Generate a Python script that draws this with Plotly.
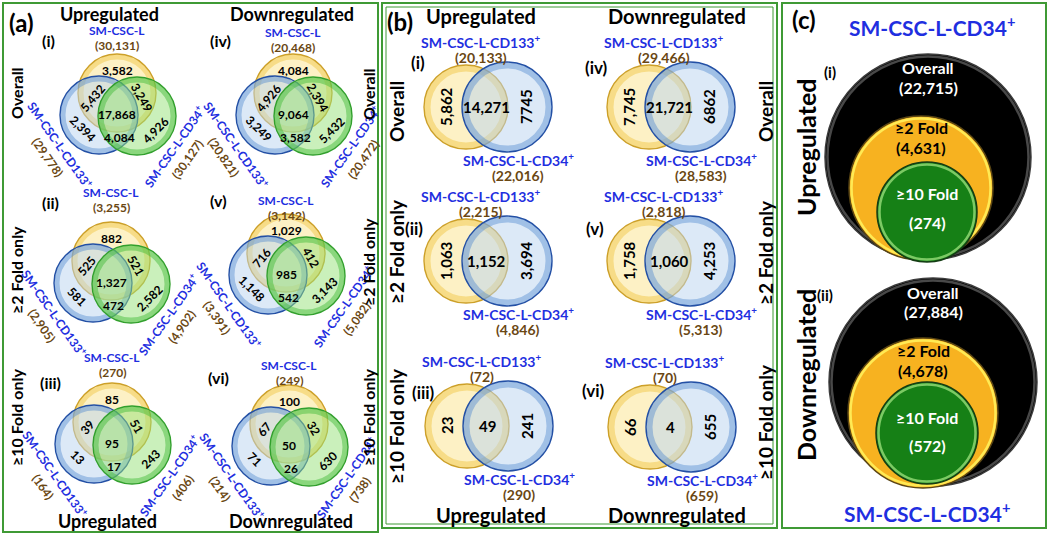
import plotly.graph_objects as go

# ---------------- DATA ----------------
row_labels = ["Overall", "≥2 Fold only", "≥10 Fold only"]
directions = ["Upregulated", "Downregulated"]

# Panel (a): three-set Venn diagrams, order (i),(iv),(ii),(v),(iii),(vi)
a_ids = ["(i)", "(iv)", "(ii)", "(v)", "(iii)", "(vi)"]
a_set_L = "SM-CSC-L"
a_set_133 = "SM-CSC-L-CD133<sup>+</sup>"
a_set_34 = "SM-CSC-L-CD34<sup>+</sup>"
a_total_L = ["30,131", "20,468", "3,255", "3,142", "270", "249"]
a_total_133 = ["29,778", "20,821", "2,905", "3,391", "164", "214"]
a_total_34 = ["30,127", "20,472", "4,902", "5,082", "406", "738"]
a_L_only = ["3,582", "4,084", "882", "1,029", "85", "100"]
a_L_133 = ["5,432", "4,926", "525", "716", "39", "67"]
a_L_34 = ["3,249", "2,394", "521", "412", "51", "32"]
a_all = ["17,868", "9,064", "1,327", "985", "95", "50"]
a_133_only = ["2,394", "3,249", "581", "1,148", "13", "71"]
a_133_34 = ["4,084", "3,582", "472", "542", "17", "26"]
a_34_only = ["4,926", "5,432", "2,582", "3,143", "243", "630"]

# Panel (b): two-set Venn diagrams
b_ids = ["(i)", "(iv)", "(ii)", "(v)", "(iii)", "(vi)"]
b_set_133 = "SM-CSC-L-CD133<sup>+</sup>"
b_set_34 = "SM-CSC-L-CD34<sup>+</sup>"
b_total_133 = ["20,133", "29,466", "2,215", "2,818", "72", "70"]
b_total_34 = ["22,016", "28,583", "4,846", "5,313", "290", "659"]
b_133_only = ["5,862", "7,745", "1,063", "1,758", "23", "66"]
b_both = ["14,271", "21,721", "1,152", "1,060", "49", "4"]
b_34_only = ["7745", "6862", "3,694", "4,253", "241", "655"]

# Panel (c): nested circles for SM-CSC-L-CD34+
c_ids = ["(i)", "(ii)"]
c_set = "SM-CSC-L-CD34<sup>+</sup>"
c_levels = ["Overall", "≥2 Fold", "≥10 Fold"]
c_up = ["22,715", "4,631", "274"]
c_down = ["27,884", "4,678", "572"]

# ---------------- STYLE / LAYOUT ----------------
FONT = "Lato"
BLUE_TXT = "#1f2fe0"
BROWN_TXT = "#6a4713"
PANEL_GREEN = "#3f9a35"

ann = []
shapes = []


def T(x, y, s, size, color="black", angle=0, bold=True):
    ann.append(dict(x=x, y=y, xref="x", yref="y",
                    text=f"<b>{s}</b>" if bold else s, showarrow=False,
                    font=dict(family=FONT, size=size, color=color),
                    textangle=angle, xanchor="center", yanchor="middle"))


def circle(cx, cy, r, fill, line, lw=1.5):
    shapes.append(dict(type="circle", xref="x", yref="y", x0=cx - r, x1=cx + r,
                       y0=cy - r, y1=cy + r, fillcolor=fill,
                       line=dict(color=line, width=lw), layer="above"))


def glossy(cx, cy, r, fill, rim, edge, rimw=5):
    circle(cx, cy, r, fill, "rgba(0,0,0,0)", 0)
    circle(cx, cy, r - rimw / 2 - 0.5, "rgba(0,0,0,0)", rim, rimw)
    circle(cx, cy, r, "rgba(0,0,0,0)", edge, 1.4)


def rect(x0, y0, x1, y1, color, w=2):
    shapes.append(dict(type="rect", xref="x", yref="y", x0=x0, x1=x1, y0=y0, y1=y1,
                       line=dict(color=color, width=w), fillcolor="rgba(0,0,0,0)",
                       layer="above"))


YEL = ("rgba(252,230,150,0.55)", "rgba(240,195,60,0.45)", "rgb(205,160,40)")
BLU = ("rgba(185,212,240,0.50)", "rgba(70,130,205,0.40)", "rgb(35,80,165)")
GRN = ("rgba(150,225,120,0.50)", "rgba(60,185,50,0.45)", "rgb(50,160,45)")

# panel borders
rect(3, 3, 378, 532, PANEL_GREEN)
rect(382, 3, 777, 528, PANEL_GREEN)
rect(386, 7, 773, 524, PANEL_GREEN, 1)
rect(782, 3, 1046, 528, PANEL_GREEN)

# ---- Panel (a) ----
a_cx = [117, 293, 111, 286, 112, 289]
a_cy = [93, 93, 261, 253, 422, 424]
a_r = 39
a_lab_dy = [-63, -61, -69, -53, -65, -59]
a_id_xy = [(48, 40), (220, 40), (50, 202), (218, 200), (50, 382), (218, 377)]
reg_off = [(0, -23, 0), (-25, 5, -50), (25, 4, 60), (0, 21, 0),
           (-34, 35, 45), (2, 44, 0), (38, 37, -45)]

for k in range(6):
    cx, cy = a_cx[k], a_cy[k]
    bx, by = cx - 18, cy + 22
    gx, gy = cx + 20, cy + 23
    glossy(cx, cy, a_r, *YEL)
    glossy(bx, by, a_r, *BLU)
    glossy(gx, gy, a_r, *GRN)
    vals = [a_L_only[k], a_L_133[k], a_L_34[k], a_all[k], a_133_only[k], a_133_34[k], a_34_only[k]]
    for v, (dx, dy, ang) in zip(vals, reg_off):
        T(cx + dx, cy + dy, v, 12, angle=ang)
    T(cx, cy + a_lab_dy[k], a_set_L, 12, BLUE_TXT)
    T(cx, cy + a_lab_dy[k] + 15, f"({a_total_L[k]})", 12, BROWN_TXT)
    T(bx - 39, by + 30, a_set_133, 12, BLUE_TXT, angle=55)
    T(bx - 51, by + 42, f"({a_total_133[k]})", 12, BROWN_TXT, angle=55)
    T(gx + 37, gy + 31, a_set_34, 12, BLUE_TXT, angle=-55)
    T(gx + 50, gy + 43, f"({a_total_34[k]})", 12, BROWN_TXT, angle=-55)
    T(a_id_xy[k][0], a_id_xy[k][1], a_ids[k], 16)

T(21, 22, "(a)", 24)
T(109, 14, directions[0], 18)
T(292, 14, directions[1], 18)
T(107, 521, directions[0], 18)
T(291, 521, directions[1], 18)
for i, lab in enumerate(row_labels):
    T(16, [93, 270, 418][i], lab, 16, angle=-90)
    T(368, [94, 262, 418][i], lab, 16, angle=-90)

# ---- Panel (b) ----
b_cx = [466, 649, 466, 649, 467, 650]
b_cy = [107, 107, 261, 261, 426, 427]
b_ry, b_rb, b_dx = 42, 45, 41
b_id_xy = [(418, 62), (596, 67), (414, 228), (595, 228), (423, 392), (593, 390)]
for k in range(6):
    cx, cy = b_cx[k], b_cy[k]
    glossy(cx, cy, b_ry, *YEL, rimw=6)
    glossy(cx + b_dx, cy, b_rb, *BLU, rimw=6)
    T(cx - 20, cy, b_133_only[k], 15, angle=-90)
    T(cx + 20, cy, b_both[k], 15)
    T(cx + 60, cy, b_34_only[k], 15, angle=-90)
    T(cx + 14, cy - 66, b_set_133, 14, BLUE_TXT)
    T(cx + 15, cy - 50, f"({b_total_133[k]})", 14, BROWN_TXT)
    T(cx + 52, cy + 52, b_set_34, 14, BLUE_TXT)
    T(cx + 52, cy + 68, f"({b_total_34[k]})", 14, BROWN_TXT)
    T(b_id_xy[k][0], b_id_xy[k][1], b_ids[k], 17)

T(400, 21, "(b)", 24)
T(481, 16, directions[0], 20)
T(677, 16, directions[1], 20)
T(491, 515, directions[0], 20)
T(677, 515, directions[1], 20)
for i, lab in enumerate(row_labels):
    T(396, [112, 252, 426][i], lab, 19, angle=-90)
    T(765, [112, 253, 422][i], lab, 19, angle=-90)

# ---- Panel (c) ----
c_geo = [
    [(928, 157, 103), (921, 188, 72), (927, 212, 50)],
    [(933, 382, 104), (923, 413, 75), (927, 433, 51)],
]
c_txt_y = [[(67, 87), (127, 147), (193, 222)], [(292, 311), (350, 370), (417, 445)]]
c_fill = ["rgb(0,0,0)", "rgb(247,178,32)", "rgb(22,128,22)"]
c_rim = ["rgba(120,120,120,0.6)", "rgba(255,240,90,0.9)", "rgba(150,220,120,0.8)"]
c_edge = ["rgb(60,60,60)", "rgb(90,70,20)", "rgb(20,60,20)"]
c_txtcol = ["white", "black", "white"]
c_counts = [c_up, c_down]
for p in range(2):
    for lv in range(3):
        cx, cy, r = c_geo[p][lv]
        circle(cx, cy, r, c_fill[lv], c_edge[lv], 1.5)
        circle(cx, cy, r - 2.5, "rgba(0,0,0,0)", c_rim[lv], 2.5)
        ty0, ty1 = c_txt_y[p][lv]
        T(cx, ty0, c_levels[lv], 16, c_txtcol[lv])
        T(cx, ty1, f"({c_counts[p][lv]})", 16, c_txtcol[lv])

T(804, 19, "(c)", 24)
T(932, 26, c_set, 21, BLUE_TXT)
T(927, 512, c_set, 21, BLUE_TXT)
T(806, 148, directions[0], 25, angle=-90)
T(806, 375, directions[1], 25, angle=-90)
T(830, 72, c_ids[0], 15)
T(825, 295, c_ids[1], 15)

fig = go.Figure()
fig.add_trace(go.Scatter(x=[0, 1050], y=[0, 537], mode="markers",
                         marker=dict(opacity=0), hoverinfo="skip", showlegend=False))
fig.update_layout(
    width=1050, height=537, margin=dict(l=0, r=0, t=0, b=0),
    paper_bgcolor="white", plot_bgcolor="white",
    xaxis=dict(range=[0, 1050], visible=False, fixedrange=True),
    yaxis=dict(range=[537, 0], visible=False, fixedrange=True),
    shapes=shapes, annotations=ann, showlegend=False,
)
fig.write_html("out.html", config={"displayModeBar": False},
               post_script="document.body.style.margin='0';")
